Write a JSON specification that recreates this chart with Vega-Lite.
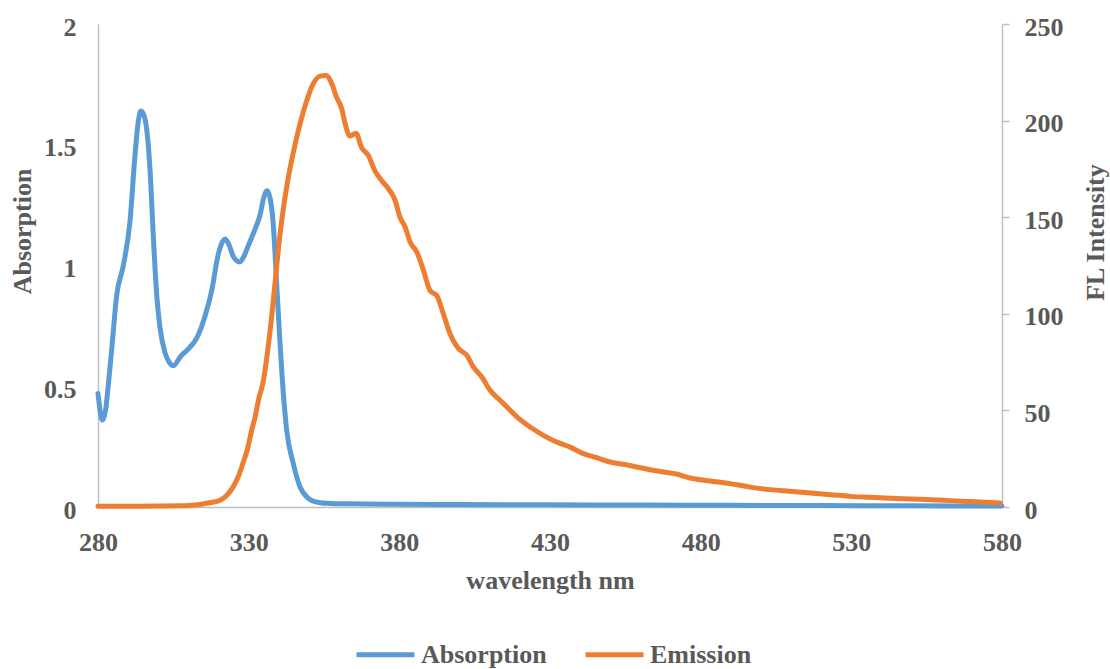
{
  "$schema": "https://vega.github.io/schema/vega-lite/v6.json",
  "width": 904,
  "height": 483,
  "autosize": {"type": "none"},
  "padding": {"left": 98, "top": 24, "right": 108, "bottom": 162},
  "background": "white",
  "config": {
    "view": {"stroke": null},
    "axis": {
      "grid": false,
      "labelFont": "Liberation Serif",
      "labelFontWeight": "bold",
      "labelFontSize": 26,
      "labelColor": "#595959",
      "titleFont": "Liberation Serif",
      "titleFontWeight": "bold",
      "titleFontSize": 26,
      "titleColor": "#595959",
      "domainColor": "#BFBFBF",
      "domainWidth": 1.5,
      "tickColor": "#BFBFBF",
      "tickWidth": 1.5
    },
    "legend": {
      "labelFont": "Liberation Serif",
      "labelFontWeight": "bold",
      "labelFontSize": 26,
      "labelColor": "#595959"
    }
  },
  "layer": [
    {
      "data": {"values": [
        {"nm": 280, "value": 0.47, "series": "Absorption"},
        {"nm": 281.5, "value": 0.36, "series": "Absorption"},
        {"nm": 282.5, "value": 0.4, "series": "Absorption"},
        {"nm": 283.3, "value": 0.49, "series": "Absorption"},
        {"nm": 284.6, "value": 0.66, "series": "Absorption"},
        {"nm": 286.2, "value": 0.876, "series": "Absorption"},
        {"nm": 288.4, "value": 1.0, "series": "Absorption"},
        {"nm": 290.6, "value": 1.18, "series": "Absorption"},
        {"nm": 292.3, "value": 1.46, "series": "Absorption"},
        {"nm": 293.4, "value": 1.6, "series": "Absorption"},
        {"nm": 294.3, "value": 1.64, "series": "Absorption"},
        {"nm": 295.3, "value": 1.62, "series": "Absorption"},
        {"nm": 296.2, "value": 1.56, "series": "Absorption"},
        {"nm": 297.3, "value": 1.39, "series": "Absorption"},
        {"nm": 298.4, "value": 1.11, "series": "Absorption"},
        {"nm": 299.5, "value": 0.876, "series": "Absorption"},
        {"nm": 300.6, "value": 0.74, "series": "Absorption"},
        {"nm": 302.2, "value": 0.64, "series": "Absorption"},
        {"nm": 303.6, "value": 0.6, "series": "Absorption"},
        {"nm": 305, "value": 0.585, "series": "Absorption"},
        {"nm": 307.5, "value": 0.625, "series": "Absorption"},
        {"nm": 310, "value": 0.655, "series": "Absorption"},
        {"nm": 312.8, "value": 0.7, "series": "Absorption"},
        {"nm": 315.5, "value": 0.79, "series": "Absorption"},
        {"nm": 317.8, "value": 0.9, "series": "Absorption"},
        {"nm": 319.8, "value": 1.04, "series": "Absorption"},
        {"nm": 321, "value": 1.09, "series": "Absorption"},
        {"nm": 322.2, "value": 1.11, "series": "Absorption"},
        {"nm": 323.5, "value": 1.085, "series": "Absorption"},
        {"nm": 324.8, "value": 1.04, "series": "Absorption"},
        {"nm": 326, "value": 1.02, "series": "Absorption"},
        {"nm": 327.1, "value": 1.015, "series": "Absorption"},
        {"nm": 328.5, "value": 1.04, "series": "Absorption"},
        {"nm": 329.8, "value": 1.08, "series": "Absorption"},
        {"nm": 332.1, "value": 1.15, "series": "Absorption"},
        {"nm": 333.8, "value": 1.21, "series": "Absorption"},
        {"nm": 335, "value": 1.28, "series": "Absorption"},
        {"nm": 336.1, "value": 1.31, "series": "Absorption"},
        {"nm": 337.1, "value": 1.28, "series": "Absorption"},
        {"nm": 338.1, "value": 1.18, "series": "Absorption"},
        {"nm": 339.4, "value": 0.9, "series": "Absorption"},
        {"nm": 340.3, "value": 0.7, "series": "Absorption"},
        {"nm": 341.1, "value": 0.54, "series": "Absorption"},
        {"nm": 342.6, "value": 0.32, "series": "Absorption"},
        {"nm": 344.8, "value": 0.18, "series": "Absorption"},
        {"nm": 347, "value": 0.085, "series": "Absorption"},
        {"nm": 349.8, "value": 0.036, "series": "Absorption"},
        {"nm": 351.5, "value": 0.024, "series": "Absorption"},
        {"nm": 353.7, "value": 0.018, "series": "Absorption"},
        {"nm": 357, "value": 0.015, "series": "Absorption"},
        {"nm": 363.6, "value": 0.013, "series": "Absorption"},
        {"nm": 380, "value": 0.011, "series": "Absorption"},
        {"nm": 400, "value": 0.01, "series": "Absorption"},
        {"nm": 430, "value": 0.009, "series": "Absorption"},
        {"nm": 460, "value": 0.008, "series": "Absorption"},
        {"nm": 490, "value": 0.007, "series": "Absorption"},
        {"nm": 520, "value": 0.006, "series": "Absorption"},
        {"nm": 550, "value": 0.005, "series": "Absorption"},
        {"nm": 580, "value": 0.004, "series": "Absorption"}
      ]},
      "mark": {"type": "line", "strokeWidth": 5, "strokeCap": "round", "strokeJoin": "round", "interpolate": "monotone"},
      "encoding": {
        "x": {
          "field": "nm", "type": "quantitative",
          "scale": {"domain": [280, 580], "nice": false, "zero": false},
          "axis": {
            "title": "wavelength nm",
            "values": [280, 330, 380, 430, 480, 530, 580],
            "ticks": false, "tickSize": 0,
            "labelFlush": false,
            "labelPadding": 22,
            "titlePadding": 12
          }
        },
        "y": {
          "field": "value", "type": "quantitative",
          "scale": {"domain": [0, 2], "nice": false},
          "axis": {
            "title": "Absorption",
            "orient": "left",
            "values": [0, 0.5, 1, 1.5, 2],
            "format": "~g",
            "ticks": false, "tickSize": 0,
            "labelPadding": 22,
            "labelOffset": 3,
            "titleAngle": -90,
            "titleAlign": "center",
            "titleBaseline": "middle",
            "titleX": -76,
            "titleY": 207
          }
        },
        "color": {
          "field": "series", "type": "nominal",
          "scale": {"domain": ["Absorption", "Emission"], "range": ["#5B9BD5", "#ED7D31"]},
          "legend": {
            "title": null,
            "orient": "none",
            "direction": "horizontal",
            "legendX": 256,
            "legendY": 599,
            "symbolType": "stroke",
            "symbolSize": 3364,
            "symbolStrokeWidth": 5,
            "labelOffset": 4,
            "columnPadding": 28,
            "padding": 0
          }
        }
      }
    },
    {
      "data": {"values": [
        {"nm": 280, "value": 0.4, "series": "Emission"},
        {"nm": 290, "value": 0.4, "series": "Emission"},
        {"nm": 300, "value": 0.5, "series": "Emission"},
        {"nm": 307, "value": 0.6, "series": "Emission"},
        {"nm": 311, "value": 0.9, "series": "Emission"},
        {"nm": 313.9, "value": 1.3, "series": "Emission"},
        {"nm": 317, "value": 2.2, "series": "Emission"},
        {"nm": 320.5, "value": 3.5, "series": "Emission"},
        {"nm": 322.7, "value": 6, "series": "Emission"},
        {"nm": 324.8, "value": 10.3, "series": "Emission"},
        {"nm": 326.5, "value": 15.5, "series": "Emission"},
        {"nm": 328.1, "value": 22.6, "series": "Emission"},
        {"nm": 329.6, "value": 30, "series": "Emission"},
        {"nm": 331, "value": 39.7, "series": "Emission"},
        {"nm": 332.2, "value": 47, "series": "Emission"},
        {"nm": 333.2, "value": 55, "series": "Emission"},
        {"nm": 334.9, "value": 65.5, "series": "Emission"},
        {"nm": 336.4, "value": 82, "series": "Emission"},
        {"nm": 337.8, "value": 101, "series": "Emission"},
        {"nm": 339, "value": 120, "series": "Emission"},
        {"nm": 340.4, "value": 141, "series": "Emission"},
        {"nm": 342.6, "value": 165.5, "series": "Emission"},
        {"nm": 345.9, "value": 191, "series": "Emission"},
        {"nm": 349.2, "value": 210, "series": "Emission"},
        {"nm": 351.4, "value": 219, "series": "Emission"},
        {"nm": 353.7, "value": 223, "series": "Emission"},
        {"nm": 355.7, "value": 223.3, "series": "Emission"},
        {"nm": 357.6, "value": 219, "series": "Emission"},
        {"nm": 359.2, "value": 212, "series": "Emission"},
        {"nm": 360.9, "value": 206, "series": "Emission"},
        {"nm": 362, "value": 198.5, "series": "Emission"},
        {"nm": 363.6, "value": 192, "series": "Emission"},
        {"nm": 365.6, "value": 193.5, "series": "Emission"},
        {"nm": 367.5, "value": 186, "series": "Emission"},
        {"nm": 369.7, "value": 182, "series": "Emission"},
        {"nm": 371.9, "value": 174, "series": "Emission"},
        {"nm": 374.1, "value": 169, "series": "Emission"},
        {"nm": 376.4, "value": 164.7, "series": "Emission"},
        {"nm": 378.6, "value": 158.7, "series": "Emission"},
        {"nm": 380.2, "value": 150, "series": "Emission"},
        {"nm": 381.9, "value": 145, "series": "Emission"},
        {"nm": 383.6, "value": 137, "series": "Emission"},
        {"nm": 385.8, "value": 132, "series": "Emission"},
        {"nm": 388, "value": 122.5, "series": "Emission"},
        {"nm": 390.2, "value": 112, "series": "Emission"},
        {"nm": 392.4, "value": 109.5, "series": "Emission"},
        {"nm": 394.6, "value": 100, "series": "Emission"},
        {"nm": 396.8, "value": 89.7, "series": "Emission"},
        {"nm": 399.6, "value": 82, "series": "Emission"},
        {"nm": 402.4, "value": 78.5, "series": "Emission"},
        {"nm": 404.6, "value": 72.4, "series": "Emission"},
        {"nm": 407.4, "value": 67.3, "series": "Emission"},
        {"nm": 410.1, "value": 60.4, "series": "Emission"},
        {"nm": 412.9, "value": 56, "series": "Emission"},
        {"nm": 416.2, "value": 51, "series": "Emission"},
        {"nm": 419, "value": 46.6, "series": "Emission"},
        {"nm": 423.4, "value": 41.4, "series": "Emission"},
        {"nm": 427.8, "value": 37.1, "series": "Emission"},
        {"nm": 432.2, "value": 33.6, "series": "Emission"},
        {"nm": 436.7, "value": 31, "series": "Emission"},
        {"nm": 441.1, "value": 27.6, "series": "Emission"},
        {"nm": 445.5, "value": 25.5, "series": "Emission"},
        {"nm": 449.9, "value": 23.3, "series": "Emission"},
        {"nm": 454.3, "value": 22.1, "series": "Emission"},
        {"nm": 458.8, "value": 20.7, "series": "Emission"},
        {"nm": 463.2, "value": 19.3, "series": "Emission"},
        {"nm": 467.6, "value": 18.1, "series": "Emission"},
        {"nm": 472.6, "value": 16.8, "series": "Emission"},
        {"nm": 476.5, "value": 15, "series": "Emission"},
        {"nm": 483.1, "value": 13.5, "series": "Emission"},
        {"nm": 489.8, "value": 12.1, "series": "Emission"},
        {"nm": 496.4, "value": 10.3, "series": "Emission"},
        {"nm": 503, "value": 9, "series": "Emission"},
        {"nm": 509.7, "value": 8.1, "series": "Emission"},
        {"nm": 516.3, "value": 7.2, "series": "Emission"},
        {"nm": 523, "value": 6.4, "series": "Emission"},
        {"nm": 529.6, "value": 5.5, "series": "Emission"},
        {"nm": 536.2, "value": 5, "series": "Emission"},
        {"nm": 542.9, "value": 4.5, "series": "Emission"},
        {"nm": 549.5, "value": 4.1, "series": "Emission"},
        {"nm": 556.1, "value": 3.8, "series": "Emission"},
        {"nm": 562.8, "value": 3.3, "series": "Emission"},
        {"nm": 569.4, "value": 2.8, "series": "Emission"},
        {"nm": 579.4, "value": 2.1, "series": "Emission"}
      ]},
      "mark": {"type": "line", "strokeWidth": 5, "strokeCap": "round", "strokeJoin": "round", "interpolate": "monotone"},
      "encoding": {
        "x": {"field": "nm", "type": "quantitative"},
        "y": {
          "field": "value", "type": "quantitative",
          "scale": {"domain": [0, 250], "nice": false},
          "axis": {
            "title": "FL Intensity",
            "orient": "right",
            "values": [0, 50, 100, 150, 200, 250],
            "ticks": true, "tickSize": 7,
            "labelPadding": 15,
            "labelOffset": 3,
            "titleAngle": -90,
            "titleAlign": "center",
            "titleBaseline": "middle",
            "titleX": 93,
            "titleY": 208
          }
        },
        "color": {
          "field": "series", "type": "nominal",
          "scale": {"domain": ["Absorption", "Emission"], "range": ["#5B9BD5", "#ED7D31"]}
        }
      }
    }
  ],
  "resolve": {"scale": {"y": "independent"}}
}
